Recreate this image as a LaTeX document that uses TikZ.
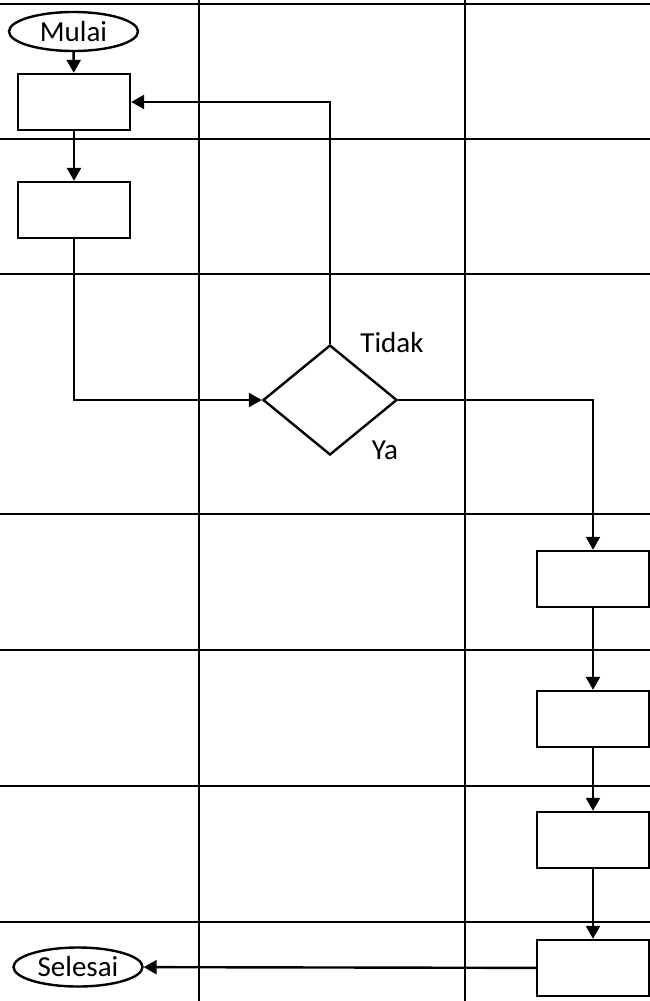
\documentclass[tikz,border=0pt]{standalone}
\usepackage{fontspec}
\setmainfont{Carlito}
\usepackage{tikz}
\usetikzlibrary{arrows.meta,shapes.geometric}
\tikzset{
  ar/.style={-{Triangle[length=13pt,width=14pt]},line width=2.4pt},
  grid/.style={line width=2.4pt},
  terminal/.style={draw,ellipse,line width=2.4pt,minimum width=129pt,minimum height=39pt,inner sep=0pt,font=\fontsize{29}{35}\selectfont},
  proc/.style={draw,line width=2.4pt,minimum width=112pt,minimum height=56pt,inner sep=0pt},
  decision/.style={draw,diamond,line width=2.4pt,minimum width=134pt,minimum height=110pt,inner sep=0pt},
  lbl/.style={font=\fontsize{29}{35}\selectfont,inner sep=0pt}
}
\begin{document}
\begin{tikzpicture}[x=1pt,y=-1pt]
\useasboundingbox (0,0) rectangle (650,1001);
\foreach \yy in {4,139,274,514,650,786,922}
  \draw[grid] (0,\yy)--(650,\yy);
\foreach \xx in {199,465}
  \draw[grid] (\xx,0)--(\xx,1001);
\node[terminal] (mulai) at (73.5,31.5) {Mulai};
\node[proc] (p1) at (74,102) {};
\node[proc] (p2) at (74,210) {};
\node[decision] (cek) at (330,400) {};
\node[lbl] (tidak) at (392,343) {Tidak};
\node[lbl] (ya) at (385,450) {Ya};
\node[proc] (p3) at (593,579) {};
\node[proc] (p4) at (593,719) {};
\node[proc] (p5) at (593,840) {};
\node[proc] (p6) at (593,968) {};
\node[terminal] (selesai) at (78,967) {Selesai};
\draw[ar] (mulai) -- (p1);
\draw[ar] (p1) -- (p2);
\draw[ar] (p2.south) |- (cek.west);
\draw[ar] (cek.north) |- (p1.east);
\draw[ar] (cek.east) -| (p3.north);
\draw[ar] (p3) -- (p4);
\draw[ar] (p4) -- (p5);
\draw[ar] (p5) -- (p6);
\draw[ar] (p6) -- (selesai);
\end{tikzpicture}
\end{document}
